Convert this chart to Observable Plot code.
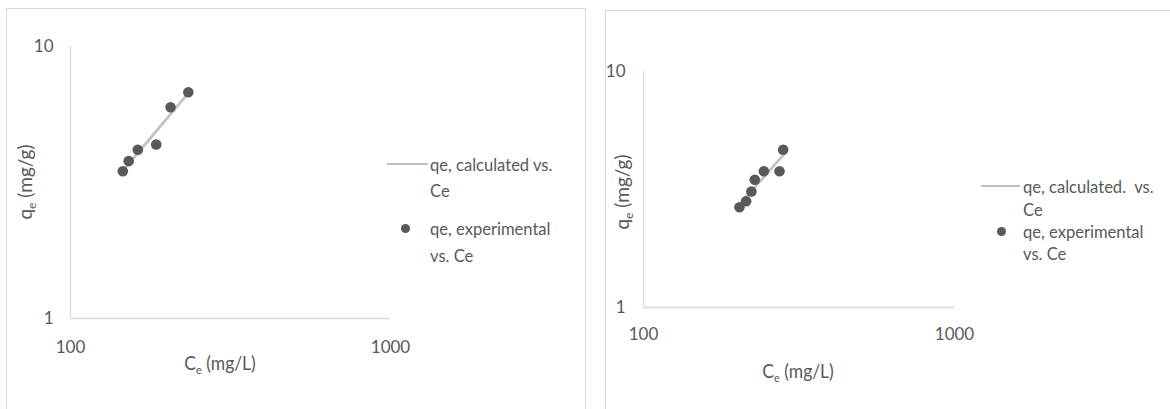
<!DOCTYPE html>
<html>
<head>
<meta charset="utf-8">
<script src="https://cdn.jsdelivr.net/npm/d3@7"></script>
<script src="https://cdn.jsdelivr.net/npm/@observablehq/plot@0.6"></script>
<style>
  html, body { margin: 0; padding: 0; background: #fff; }
  #root { position: relative; width: 1170px; height: 409px; overflow: hidden; font-family: Lato, "Open Sans", sans-serif; color: #595959; }
  .frame { position: absolute; border: 1px solid #d9d9d9; box-sizing: border-box; }
  .plot { position: absolute; top: 0; }
  .abs { position: absolute; white-space: nowrap; }
  .title { font-size: 19px; transform: translate(-50%, -50%) scaleX(0.92); }
  .ytitle { font-size: 19px; transform: translate(-50%, -50%) rotate(-90deg); }
  sub { font-size: 12px; vertical-align: -4px; }
  .leg { font-size: 18px; transform-origin: 0 50%; transform: scaleX(0.92); }
  .swline { position: absolute; height: 2.5px; background: #bfbfbf; }
  .swdot { position: absolute; width: 9px; height: 9px; border-radius: 50%; background: #595959; }
</style>
</head>
<body>
<div id="root"></div>
<script>
// Left chart
const leftCe = [145.7, 152.0, 162.3, 185.3, 205.4, 233.4];
const leftQeExp = [3.48, 3.79, 4.17, 4.36, 5.98, 6.79];
const leftQeCalc = [3.49, 3.70, 4.06, 4.88, 5.64, 6.74];
// Right chart
const rightCe = [203.5, 213.8, 222.3, 227.9, 243.8, 273.7, 281.2];
const rightQeExp = [2.66, 2.82, 3.10, 3.48, 3.78, 3.78, 4.66];
const rightQeCalc = [2.73, 2.94, 3.11, 3.23, 3.57, 4.24, 4.41];
// Axes
const xTicks = [100, 1000];
const yTicks = [1, 10];
const leftLegend = ["qe, calculated vs.", "Ce", "qe, experimental", "vs. Ce"];
const rightLegend = ["qe, calculated.  vs.", "Ce", "qe, experimental", "vs. Ce"];

const root = document.getElementById("root");

function makePlot(ce, qeExp, qeCalc, opts) {
  const exp = ce.map((c, i) => ({Ce: c, qe: qeExp[i]}));
  const calc = ce.map((c, i) => ({Ce: c, qe: qeCalc[i]}));
  return Plot.plot({
    width: opts.width, height: 409,
    marginLeft: opts.ml, marginRight: opts.mr, marginTop: opts.mt, marginBottom: opts.mb,
    style: {fontFamily: "Lato, 'Open Sans', sans-serif", fontSize: "17px", color: "#595959", background: "transparent", overflow: "visible"},
    x: {type: "log", domain: [100, 1000], ticks: xTicks, tickSize: 0, tickPadding: opts.xpad, tickFormat: d => String(d), label: null},
    y: {type: "log", domain: [1, 10], ticks: yTicks, tickSize: 0, tickPadding: opts.ypad, tickFormat: d => String(d), label: null},
    marks: [
      Plot.ruleX([100], {stroke: "#d9d9d9", strokeWidth: 1.3}),
      Plot.ruleY([1], {stroke: "#d9d9d9", strokeWidth: 1.3}),
      Plot.line(calc, {x: "Ce", y: "qe", stroke: "#c3c3c3", strokeWidth: 2.8}),
      Plot.dot(exp, {x: "Ce", y: "qe", r: 5.3, fill: "#595959", stroke: "none"})
    ]
  });
}

function add(html, cls, x, y) {
  const d = document.createElement("div");
  d.className = "abs " + cls;
  d.style.left = x + "px";
  d.style.top = y + "px";
  d.innerHTML = html;
  root.appendChild(d);
  return d;
}

// frames
const f1 = document.createElement("div"); f1.className = "frame";
Object.assign(f1.style, {left: "6px", top: "8px", width: "580px", height: "420px"});
root.appendChild(f1);
const f2 = document.createElement("div"); f2.className = "frame";
Object.assign(f2.style, {left: "605px", top: "10px", width: "600px", height: "420px"});
root.appendChild(f2);

// plots
const p1 = makePlot(leftCe, leftQeExp, leftQeCalc, {width: 590, ml: 70, mr: 200, mt: 46, mb: 91, xpad: 22, ypad: 17});
p1.classList.add("plot"); p1.style.left = "0px";
root.appendChild(p1);
const p2 = makePlot(rightCe, rightQeExp, rightQeCalc, {width: 580, ml: 53, mr: 216, mt: 71, mb: 102, xpad: 20, ypad: 18});
p2.classList.add("plot"); p2.style.left = "590px";
root.appendChild(p2);

// axis titles
add("C<sub>e</sub> (mg/L)", "title", 220, 364);
add("q<sub>e</sub> (mg/g)", "ytitle", 26, 182);
add("C<sub>e</sub> (mg/L)", "title", 798, 372);
add("q<sub>e</sub> (mg/g)", "ytitle", 623, 192);

// legends
function legend(lineX0, lineX1, dotX, textX, rows, lh, labels) {
  const ln = document.createElement("div"); ln.className = "swline";
  Object.assign(ln.style, {left: lineX0 + "px", width: (lineX1 - lineX0) + "px", top: (rows[0] - 1.25) + "px"});
  root.appendChild(ln);
  const dt = document.createElement("div"); dt.className = "swdot";
  Object.assign(dt.style, {left: (dotX - 4.5) + "px", top: (rows[2] - 4.5) + "px"});
  root.appendChild(dt);
  labels.forEach((t, i) => {
    const d = add(t.replace(/  /g, "&nbsp; "), "leg", textX, rows[i] - lh / 2);
    d.style.lineHeight = lh + "px";
  });
}
legend(387, 428, 405, 430, [164, 190, 228, 255], 24, leftLegend);
legend(981, 1020, 1001, 1023, [186, 209, 231, 253], 22, rightLegend);
</script>
</body>
</html>
